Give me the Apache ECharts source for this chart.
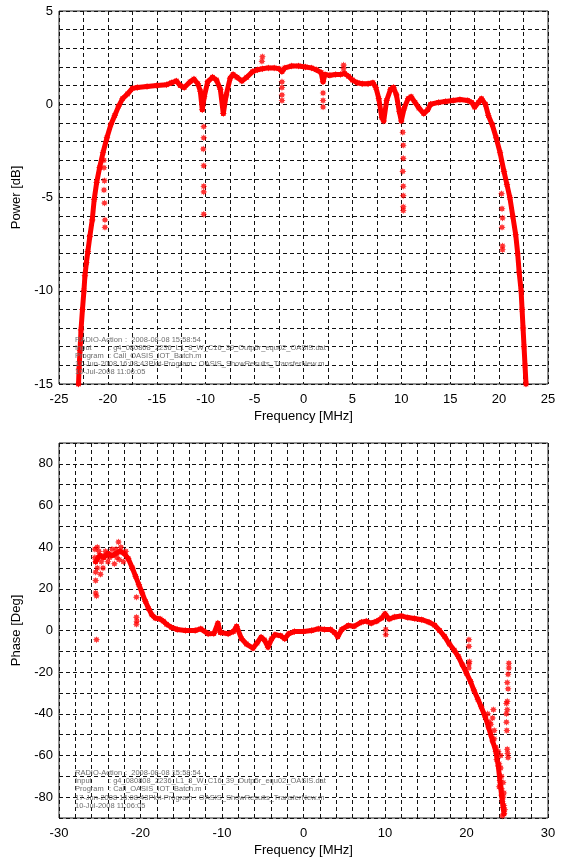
<!DOCTYPE html>
<html>
<head>
<meta charset="utf-8">
<script src="https://cdn.jsdelivr.net/npm/echarts@6/dist/echarts.min.js"></script>
<style>
  html, body { margin: 0; padding: 0; background: #fff; }
  #chart { width: 569px; height: 861px; }
</style>
</head>
<body>
<div id="chart"></div>
<script>
// Transfer function: power response [f MHz, dB]
const powerCurve = [
  [-23.0, -15.0], [-22.95, -14.2], [-22.85, -13.2], [-22.75, -12.1], [-22.6, -11.0],
  [-22.45, -10.0], [-22.35, -9.2], [-22.2, -8.5], [-22.05, -7.9], [-21.85, -7.1],
  [-21.6, -6.2], [-21.4, -5.1], [-21.15, -4.2], [-20.85, -3.4], [-20.5, -2.6],
  [-20.1, -1.8], [-19.7, -1.1], [-19.3, -0.6], [-18.9, -0.1], [-18.5, 0.3],
  [-18.0, 0.55], [-17.5, 0.85], [-17.0, 0.9], [-16.0, 0.95], [-15.0, 1.0],
  [-14.0, 1.05], [-13.5, 1.15], [-13.0, 1.25], [-12.6, 1.0], [-12.2, 0.9],
  [-11.6, 1.2], [-11.2, 1.35], [-10.8, 1.1], [-10.55, 0.7], [-10.35, -0.3],
  [-10.15, 0.4], [-9.8, 1.2], [-9.3, 1.45], [-8.9, 1.3], [-8.5, 0.8],
  [-8.2, -0.5], [-7.9, 0.5], [-7.5, 1.4], [-7.2, 1.6], [-6.8, 1.45],
  [-6.3, 1.25], [-5.8, 1.45], [-5.2, 1.75], [-4.7, 1.85], [-4.2, 1.9],
  [-3.6, 1.95], [-3.0, 1.95], [-2.5, 1.9], [-2.2, 1.75], [-1.9, 1.95],
  [-1.2, 2.05], [-0.5, 2.05], [0.2, 2.0], [0.8, 1.95], [1.3, 1.85],
  [1.8, 1.7], [2.0, 1.2], [2.2, 1.6], [2.7, 1.55], [3.3, 1.6],
  [3.8, 1.6], [4.2, 1.65], [4.6, 1.5], [5.0, 1.3], [5.5, 1.15],
  [6.0, 1.1], [6.6, 1.1], [7.1, 1.15], [7.4, 0.9], [7.7, 0.3],
  [8.0, -0.7], [8.2, -0.9], [8.5, 0.2], [8.9, 0.8], [9.2, 0.9],
  [9.5, 0.5], [9.8, -0.4], [10.0, -0.9], [10.3, -0.2], [10.7, 0.3],
  [11.0, 0.4], [11.4, 0.1], [11.8, -0.2], [12.3, -0.5], [12.7, -0.3],
  [13.0, 0.0], [13.8, 0.1], [14.5, 0.15], [15.3, 0.2], [16.0, 0.25],
  [16.8, 0.2], [17.2, 0.1], [17.5, -0.15], [17.9, 0.1], [18.2, 0.3],
  [18.6, 0.0], [18.9, -0.6], [19.3, -1.1], [19.7, -1.8], [20.1, -2.6],
  [20.5, -3.6], [20.8, -4.3], [21.1, -5.0], [21.4, -6.0], [21.7, -7.0],
  [21.9, -8.0], [22.05, -9.0], [22.25, -10.0], [22.35, -11.0], [22.45, -12.0],
  [22.55, -13.0], [22.65, -14.0], [22.75, -15.0]
];

// isolated power samples away from the main trace
const powerStray = [
  [-20.4, -3.0], [-20.4, -3.4], [-20.35, -4.1], [-20.4, -4.6], [-20.35, -5.3], [-20.3, -6.2], [-20.3, -6.6],
  [-10.2, -1.2], [-10.2, -1.8], [-10.25, -2.4], [-10.2, -3.3], [-10.2, -4.4], [-10.2, -4.7], [-10.2, -5.9],
  [-4.25, 2.3], [-4.2, 2.55],
  [-2.2, 1.2], [-2.2, 0.9], [-2.2, 0.5], [-2.2, 0.2],
  [2.0, 0.6], [2.0, 0.2], [2.0, -0.15],
  [4.1, 2.1], [4.1, 1.9],
  [10.15, -1.5], [10.2, -2.2], [10.2, -2.9], [10.15, -3.6], [10.2, -4.4], [10.2, -4.9], [10.2, -5.5], [10.2, -5.7],
  [20.25, -4.8], [20.3, -5.6], [20.35, -6.1], [20.3, -6.6], [20.35, -7.6], [20.35, -7.8]
];

// Transfer function: phase response [f MHz, deg]
const phaseCurve = [
  [-25.5, 33], [-25.0, 36], [-24.5, 35], [-24.0, 37], [-23.5, 36],
  [-23.0, 37], [-22.5, 38], [-22.0, 37], [-21.5, 34.5], [-21.0, 30],
  [-20.6, 26], [-20.2, 22], [-19.8, 18], [-19.4, 14], [-19.0, 10.5],
  [-18.6, 7.5], [-18.2, 6], [-17.6, 5.5], [-17.2, 4.5], [-16.8, 3],
  [-16.2, 1.5], [-15.5, 0.5], [-14.5, 0], [-13.3, 0], [-12.6, 0.8],
  [-11.7, -1.6], [-11.0, -1.5], [-10.5, 3.5], [-10.2, -1.0], [-9.25, -1.6],
  [-8.6, -0.5], [-8.2, 2.0], [-7.6, -4.0], [-7.0, -6.5], [-6.2, -8.5],
  [-5.7, -6.0], [-5.2, -3.2], [-4.8, -4.5], [-4.35, -8.0], [-3.9, -4.0],
  [-3.5, -2.0], [-2.8, -2.5], [-2.3, -4.0], [-1.8, -1.5], [-1.1, -0.5],
  [0.0, -0.5], [1.0, 0.0], [1.8, 0.8], [2.6, 0.5], [3.3, 0.5],
  [3.8, -1.0], [4.2, -3.0], [4.7, 0.5], [5.5, 2.4], [6.2, 2.0],
  [7.1, 4.0], [7.7, 4.5], [8.3, 3.5], [9.0, 4.5], [9.6, 6.0],
  [10.0, 8.0], [10.5, 5.5], [11.2, 6.5], [12.0, 7.0], [12.8, 6.2],
  [13.6, 5.8], [14.5, 5.2], [15.4, 4.0], [16.1, 2.5], [16.7, 0.0],
  [17.3, -2.8], [17.9, -6.5], [18.5, -9.5], [19.0, -12.5], [19.5, -16.5],
  [20.0, -20.5], [20.5, -24.5], [20.9, -28.6], [21.4, -33], [21.8, -36.6],
  [22.3, -41.5], [22.7, -46.3], [23.2, -53], [23.6, -58], [23.9, -65],
  [24.1, -72], [24.3, -79], [24.5, -85], [24.6, -88]
];

// scattered phase samples at the band edges and near notches
const phaseStray = [
  [-25.4, 16.6], [-25.5, 18], [-25.5, 24], [-25.4, -4.4], [-25.6, 39], [-25.3, 40],
  [-25.5, 28], [-25.2, 35], [-24.9, 27], [-24.6, 30], [-24.3, 38], [-24.0, 33],
  [-23.5, 39], [-23.2, 32], [-22.7, 42.5], [-22.9, 35], [-22.4, 40], [-22.1, 33],
  [-25.6, 35], [-25.3, 30], [-25.1, 38], [-24.8, 33], [-24.4, 36], [-23.8, 35],
  [-23.0, 39], [-22.6, 34], [-21.8, 38],
  [-20.5, 16], [-20.5, 6.4], [-20.45, 4.5], [-20.5, 3.0],
  [10.1, 0.5], [10.1, -2.0],
  [20.3, -4.4], [20.3, -7.6], [20.35, -15], [20.3, -16], [20.3, -18],
  [25.2, -15.7], [25.2, -18], [25.1, -21], [25.0, -25], [25.1, -28], [25.0, -34],
  [24.9, -35], [25.0, -38], [24.9, -40], [24.9, -44], [24.95, -48], [25.0, -57],
  [25.05, -59], [25.1, -61],
  [22.6, -40], [22.8, -44], [23.2, -42], [23.3, -38], [23.0, -50], [23.4, -52],
  [23.6, -56], [23.9, -58], [24.0, -64], [24.2, -66], [24.3, -70], [24.5, -73],
  [24.3, -76], [24.6, -78], [24.4, -82], [24.6, -84], [24.7, -86], [24.4, -89],
  [23.0, -45], [23.4, -48], [23.7, -62], [24.2, -60], [24.0, -75], [24.5, -80]
];

// run-info footer printed inside both plots
const infoLabels = ['RADIO-Action', 'Input', 'Program'];
const infoValues = [':  2008-08-08 15:58:54',
  ': g4_080808_2236_L1_8_W_C16_39_Outp5r_equ02_OASIS.dat',
  ': Call_OASIS_IOT_Batch.m'];
const infoLines = ['17-Jun-2008 16:08:43Plot-Program : OASIS_ShowResults_TransferNew.m',
  '10-Jul-2008 11:06:05'];

// asterisk-like marker
function starPath(n, rIn) {
  let d = '';
  for (let i = 0; i < 2 * n; i++) {
    const a = Math.PI * i / n;
    const r = i % 2 === 0 ? 1 : rIn;
    const x = (r * Math.sin(a)).toFixed(3), y = (-r * Math.cos(a)).toFixed(3);
    d += (i === 0 ? 'M' : 'L') + x + ' ' + y + ' ';
  }
  return 'path://' + d + 'Z';
}
const star = starPath(8, 0.6);

const RED = '#ff0000';
const FONT = '"Liberation Sans", Arial, sans-serif';
const gridDash = { color: '#111', width: 1, type: [4, 3] };

function axisX(idx, min, max, step, labelStep) {
  return {
    type: 'value', gridIndex: idx, min: min, max: max, interval: step,
    name: 'Frequency [MHz]', nameLocation: 'middle', nameGap: 26,
    nameTextStyle: { fontFamily: FONT, fontSize: 13, color: '#000' },
    axisLine: { show: false },
    axisTick: { show: false },
    axisLabel: {
      fontFamily: FONT, fontSize: 13, color: '#000', margin: 9,
      formatter: v => (Math.abs(v % labelStep) < 1e-9 ? String(v) : '')
    },
    splitLine: { show: true, lineStyle: gridDash }
  };
}
function axisY(idx, name, min, max, step, labelStep, gap) {
  return {
    type: 'value', gridIndex: idx, min: min, max: max, interval: step,
    name: name, nameLocation: 'middle', nameGap: gap, nameRotate: 90,
    nameTextStyle: { fontFamily: FONT, fontSize: 13, color: '#000' },
    axisLine: { show: false },
    axisTick: { show: false },
    axisLabel: {
      fontFamily: FONT, fontSize: 13, color: '#000', margin: 6,
      formatter: v => (Math.abs(v % labelStep) < 1e-9 ? String(v) : '')
    },
    splitLine: { show: true, lineStyle: gridDash }
  };
}

function traceSeries(idx, data) {
  return {
    type: 'line', xAxisIndex: idx, yAxisIndex: idx, data: data,
    smooth: false, showSymbol: true, symbol: star, symbolSize: 7,
    itemStyle: { color: RED },
    lineStyle: { color: RED, width: 5, join: 'round', cap: 'round' },
    emphasis: { disabled: true }, silent: true, z: 3
  };
}
function straySeries(idx, data) {
  return {
    type: 'scatter', xAxisIndex: idx, yAxisIndex: idx, data: data,
    symbol: star, symbolSize: 7, itemStyle: { color: RED },
    emphasis: { disabled: true }, silent: true, z: 4
  };
}

function infoBlock(x, y0, dy) {
  const style = { font: '7.5px ' + FONT, fill: '#6e6e6e' };
  const els = [];
  infoLabels.forEach((t, i) => {
    els.push({ type: 'text', left: x, top: y0 + i * dy, z: 10, style: Object.assign({ text: t }, style) });
    els.push({ type: 'text', left: i === 0 ? x + 50 : x + 34, top: y0 + i * dy, z: 10, style: Object.assign({ text: infoValues[i] }, style) });
  });
  infoLines.forEach((t, j) => {
    els.push({ type: 'text', left: x, top: y0 + (3 + j) * dy, z: 10, style: Object.assign({ text: t }, style) });
  });
  return els;
}

const chart = echarts.init(document.getElementById('chart'), null, { renderer: 'canvas' });
chart.setOption({
  backgroundColor: '#fff',
  animation: false,
  grid: [
    { left: 59, top: 11, width: 489, height: 373, show: true, borderColor: '#222', borderWidth: 1, backgroundColor: 'transparent' },
    { left: 59, top: 443, width: 489, height: 375, show: true, borderColor: '#222', borderWidth: 1, backgroundColor: 'transparent' }
  ],
  xAxis: [
    axisX(0, -25, 25, 2.5, 5),
    axisX(1, -30, 30, 2, 10)
  ],
  yAxis: [
    axisY(0, 'Power [dB]', -15, 5, 1, 5, 26),
    axisY(1, 'Phase [Deg]', -90, 90, 10, 20, 26)
  ],
  series: [
    traceSeries(0, powerCurve),
    straySeries(0, powerStray),
    traceSeries(1, phaseCurve),
    straySeries(1, phaseStray)
  ],
  graphic: infoBlock(75, 336, 8.1).concat(infoBlock(75, 769, 8.2))
});
</script>
</body>
</html>
